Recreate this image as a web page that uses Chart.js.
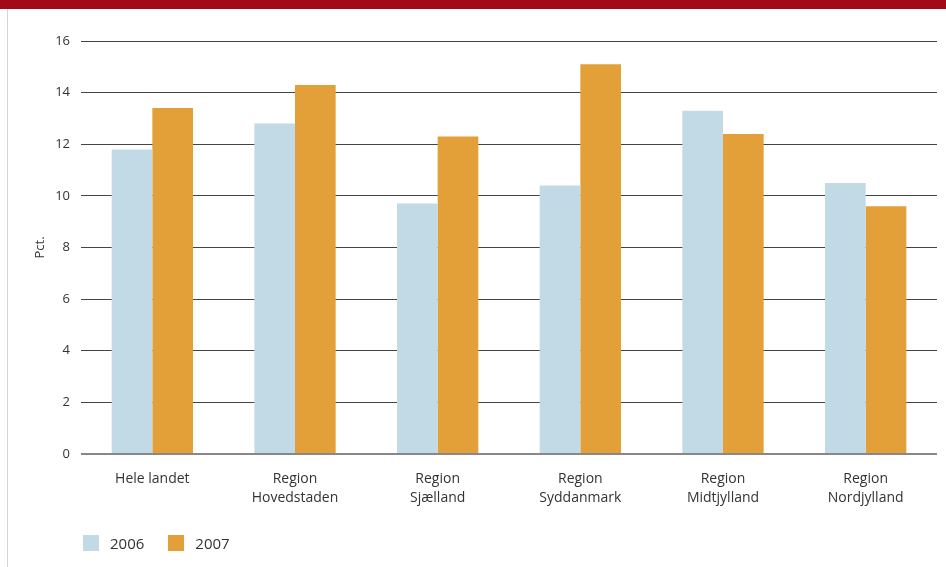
<!DOCTYPE html>
<html>
<head>
<meta charset="utf-8">
<script src="https://cdn.jsdelivr.net/npm/chart.js@4.4.1/dist/chart.umd.min.js"></script>
<style>
body { margin: 0; background: #fff; }
#wrap { position: relative; width: 946px; height: 567px; overflow: hidden; font-family: 'Open Sans', sans-serif; }
#topBar { position: absolute; left: 0; top: 0; width: 946px; height: 9px; background: #a10a19; }
#leftLine { position: absolute; left: 7px; top: 9px; width: 1px; height: 558px; background: #d4d4d4; }
#chart { position: absolute; left: 0; top: 0; }
#legend { position: absolute; left: 83px; top: 535px; display: flex; font-size: 15px; color: #333; line-height: 16px; }
.item { display: flex; align-items: center; margin-right: 24px; }
.box { width: 16px; height: 16px; margin-right: 11px; }
</style>
</head>
<body>
<div id="wrap">
  <canvas id="chart" width="946" height="567"></canvas>
  <div id="topBar"></div>
  <div id="leftLine"></div>
  <div id="legend"></div>
</div>
<script>
// chart data
const categories = [['Hele landet'], ['Region', 'Hovedstaden'], ['Region', 'Sjælland'], ['Region', 'Syddanmark'], ['Region', 'Midtjylland'], ['Region', 'Nordjylland']];
const seriesNames = ['2006', '2007'];
const values2006 = [11.8, 12.8, 9.7, 10.4, 13.3, 10.5];
const values2007 = [13.4, 14.3, 12.3, 15.1, 12.4, 9.6];
const yTicks = [0, 2, 4, 6, 8, 10, 12, 14, 16];
const colors = ['#c2dae6', '#e3a038'];

const legend = document.getElementById('legend');
seriesNames.forEach((name, i) => {
    const item = document.createElement('div');
    item.className = 'item';
    item.innerHTML = `<span class="box" style="background:${colors[i]}"></span><span>${name}</span>`;
    legend.appendChild(item);
});

new Chart(document.getElementById('chart'), {
    type: 'bar',
    data: {
        labels: categories,
        datasets: [
            { label: seriesNames[0], data: values2006, backgroundColor: colors[0], borderWidth: 0 },
            { label: seriesNames[1], data: values2007, backgroundColor: colors[1], borderWidth: 0 }
        ]
    },
    options: {
        responsive: false, animation: false,
        barPercentage: 1, categoryPercentage: 0.57,
        layout: { padding: { top: 41, right: 9, bottom: 0, left: 0 } },
        scales: {
            x: {
                grid: { display: false, drawTicks: false },
                border: { display: false },
                ticks: { color: '#333', font: { family: 'Open Sans', size: 14, lineHeight: 1.36 }, padding: 15, maxRotation: 0 },
                afterFit: s => { s.height = 113; }
            },
            y: {
                min: 0, max: 16,
                afterBuildTicks: s => { s.ticks = yTicks.map(v => ({ value: v })); },
                grid: {
                    drawTicks: false,
                    color: c => c.tick && c.tick.value === 0 ? '#888' : '#444',
                    lineWidth: c => c.tick && c.tick.value === 0 ? 2 : 1
                },
                border: { display: false },
                ticks: { color: '#333', font: { family: 'Open Sans', size: 13 }, padding: 11 },
                title: { display: true, text: 'Pct.', color: '#333', font: { family: 'Open Sans', size: 13 }, padding: { top: 32, bottom: 0 } },
                afterFit: s => { s.width = 81; }
            }
        },
        plugins: { legend: { display: false }, tooltip: { enabled: false } }
    }
});
</script>
</body>
</html>
